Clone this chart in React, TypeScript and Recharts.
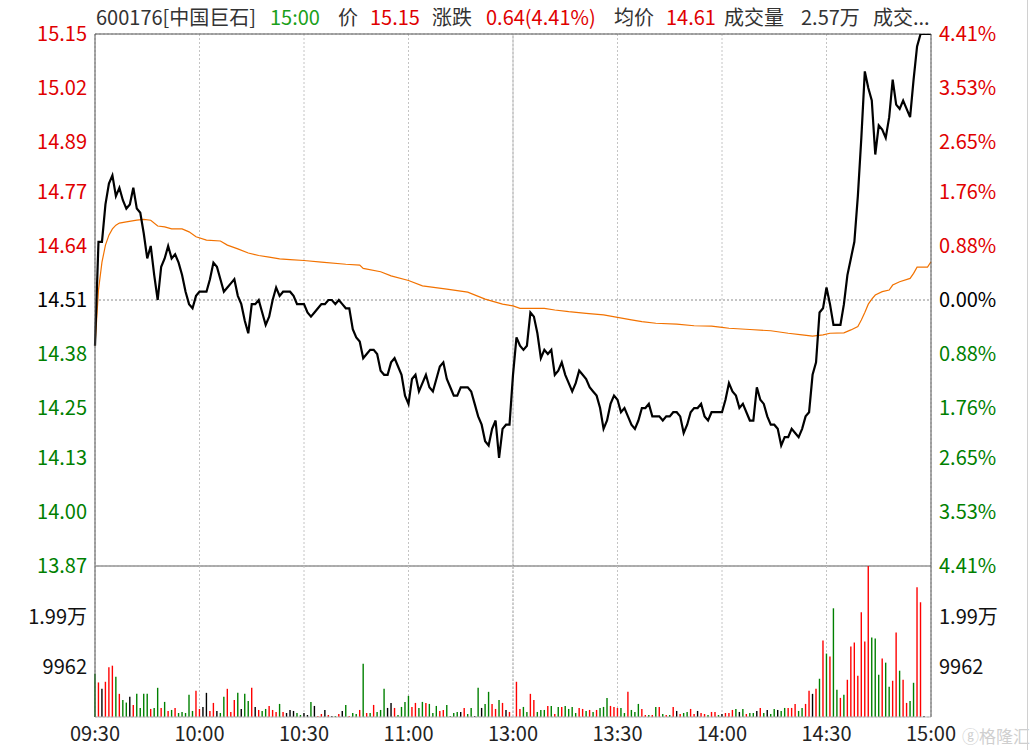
import React from "react";
import {
  ComposedChart,
  BarChart,
  Line,
  Bar,
  Cell,
  XAxis,
  YAxis,
  CartesianGrid,
  ReferenceLine,
} from "recharts";

const PREV_CLOSE = 14.51;
const RED = "#e00000";
const GREEN = "#008000";
const FONT = "'Noto Sans CJK SC', 'Noto Sans', sans-serif";

const TIME_TICKS = [0, 30, 60, 90, 120, 150, 180, 210, 240];
const TIME_LABELS = ["09:30", "10:00", "10:30", "11:00", "13:00", "13:30", "14:00", "14:30", "15:00"];
const PRICE_TICKS = [15.15, 15.02, 14.89, 14.77, 14.64, 14.51, 14.38, 14.25, 14.13, 14.0, 13.87];
const PCT_LABELS = ["4.41%", "3.53%", "2.65%", "1.76%", "0.88%", "0.00%", "0.88%", "1.76%", "2.65%", "3.53%", "4.41%"];
const VOL_TICKS = [9962, 19924];
const VOL_LABELS = ["9962", "1.99万"];
const VOL_MAX = 29886;

// one price per minute, 09:30 .. 11:30 / 13:00 .. 15:00
const PRICES = [
  14.40, 14.65, 14.65, 14.74, 14.79, 14.81, 14.76, 14.78, 14.75, 14.73,
  14.74, 14.78, 14.73, 14.72, 14.67, 14.61, 14.64, 14.57, 14.51, 14.59,
  14.61, 14.64, 14.61, 14.62, 14.60, 14.57, 14.53, 14.50, 14.49, 14.52,
  14.53, 14.53, 14.53, 14.56, 14.60, 14.59, 14.56, 14.53, 14.54, 14.55,
  14.56, 14.52, 14.50, 14.46, 14.43, 14.50, 14.50, 14.51, 14.48, 14.45,
  14.47, 14.51, 14.54, 14.52, 14.53, 14.53, 14.53, 14.52, 14.50, 14.50,
  14.50, 14.48, 14.47, 14.48, 14.49, 14.50, 14.50, 14.51, 14.51, 14.50,
  14.51, 14.50, 14.49, 14.49, 14.44, 14.42, 14.41, 14.37, 14.38, 14.39,
  14.39, 14.38, 14.34, 14.33, 14.33, 14.36, 14.37, 14.35, 14.33, 14.28,
  14.26, 14.32, 14.33, 14.29, 14.31, 14.33, 14.30, 14.29, 14.32, 14.35,
  14.36, 14.32, 14.30, 14.28, 14.28, 14.30, 14.30, 14.30, 14.29, 14.26,
  14.23, 14.21, 14.17, 14.16, 14.20, 14.22, 14.13, 14.20, 14.21, 14.21,
  14.33, 14.42, 14.40, 14.39, 14.40, 14.48, 14.47, 14.43, 14.37, 14.39,
  14.38, 14.39, 14.33, 14.34, 14.36, 14.33, 14.31, 14.29, 14.31, 14.34,
  14.33, 14.32, 14.30, 14.29, 14.28, 14.25, 14.20, 14.22, 14.26, 14.28,
  14.27, 14.24, 14.25, 14.23, 14.21, 14.20, 14.22, 14.25, 14.25, 14.26,
  14.23, 14.23, 14.23, 14.22, 14.23, 14.23, 14.24, 14.24, 14.23, 14.19,
  14.21, 14.24, 14.25, 14.25, 14.26, 14.23, 14.22, 14.24, 14.24, 14.24,
  14.24, 14.27, 14.31, 14.29, 14.28, 14.25, 14.26, 14.24, 14.22, 14.22,
  14.30, 14.27, 14.26, 14.23, 14.21, 14.21, 14.20, 14.16, 14.18, 14.18,
  14.20, 14.19, 14.18, 14.20, 14.23, 14.24, 14.33, 14.36, 14.48, 14.49,
  14.54, 14.50, 14.45, 14.45, 14.45, 14.50, 14.57, 14.61, 14.65, 14.76,
  14.90, 15.06, 15.02, 14.99, 14.86, 14.93, 14.92, 14.90, 14.95, 15.04,
  14.98, 14.97, 14.99, 14.97, 14.95, 15.04, 15.12, 15.15, 15.15, 15.15,
  15.15,
];

const VOLUMES = [
  8566, 6839, 5578, 6972, 9827, 10159, 7968, 4582, 3386, 2855,
  3984, 2390, 4582, 1793, 4582, 4582, 1594, 1793, 5777, 1793,
  2988, 1195, 1394, 1793, 797, 996, 797, 4382, 1195, 5179,
  1594, 1992, 4781, 1195, 2789, 1195, 797, 3984, 5578, 996,
  3386, 4781, 1594, 4582, 3187, 5777, 1992, 1394, 1195, 1594,
  2191, 1394, 996, 2590, 996, 797, 1394, 1195, 797, 398,
  797, 398, 2988, 2191, 199, 598, 1394, 398, 199, 199,
  598, 1195, 2390, 199, 797, 598, 1394, 10558, 797, 797,
  2390, 996, 1394, 5578, 1793, 2789, 1793, 398, 1992, 2988,
  4183, 1992, 2789, 1793, 2988, 2789, 2590, 797, 2191, 1195,
  1394, 2390, 199, 797, 996, 996, 1793, 598, 1793, 199,
  5777, 1793, 2590, 4980, 2590, 1594, 3386, 2789, 1394, 996,
  0, 6972, 1594, 1992, 996, 4582, 3386, 996, 1394, 1394,
  2191, 2191, 598, 1992, 1992, 2191, 1594, 1992, 797, 1793,
  1594, 1195, 1394, 996, 1394, 1793, 1992, 3785, 2191, 1992,
  1793, 1793, 797, 4980, 1394, 996, 2590, 1594, 398, 398,
  398, 1992, 1992, 598, 398, 398, 1992, 1195, 598, 797,
  996, 1594, 598, 1195, 797, 598, 398, 996, 996, 398,
  598, 797, 797, 1394, 1594, 996, 1594, 598, 797, 797,
  1195, 1793, 797, 1394, 598, 1594, 1394, 1195, 1793, 1793,
  1793, 2590, 1195, 1793, 2590, 5179, 4582, 5578, 7570, 15139,
  12550, 11952, 21514, 5378, 3785, 4382, 7370, 13944, 14741, 8167,
  20717, 14940, 29886, 15737, 15538, 8366, 11554, 10757, 5976, 7171,
  16733, 9163, 7370, 2789, 3187, 6773, 25697, 22709, 199, 0,
  0,
];

// u = up (red), d = down (green), f = flat (black)
const MOVES = `
  d u f u u u d u d d
  f u d d d d u d d u
  d u d u d d d d d u
  u f f u u f d d u u
  u d f d d u f u d d
  u u u d u f f f d d
  f f d f u u f u f d
  u f d u d d u d u d
  u d d d f f u d d d
  d u u d d u d d d u
  u d d d d f u d d f
  d f d d u u d u f u
  f u u d d u u d d d
  u d u d u d d d d u
  u d u d u d d d u u
  u d d u d d d u u d
  u d u d u d u f u d
  d u u f u u d u u d
  f u u u d f d u d d
  f u d f d d f d d u
  u u d d u u f u d u
  d u d d u d u u u u
  u u u d d d u d d u
  u d u u d d u u f f
  f
`.trim().split(/\s+/);

const AVG_MINUTES = [
  0, 1, 2, 3, 4, 5, 6, 7, 9, 12, 14, 16, 18, 20, 22, 25, 27, 29, 32, 36,
  38, 41, 44, 47, 50, 53, 56, 60, 65, 72, 76, 77, 82, 85, 90, 94, 101, 107, 112, 117,
  120, 122, 129, 132, 136, 141, 146, 150, 154, 157, 161, 167, 172, 177, 180, 182, 188, 194, 199, 203,
  206, 209, 211, 215, 217, 219, 220, 221, 222, 223, 224, 226, 228, 229, 231, 234, 235, 236, 239, 240,
];
const AVG_VALUES = [
  14.40, 14.534, 14.601, 14.642, 14.666, 14.681, 14.69, 14.695, 14.698, 14.702, 14.704, 14.702, 14.688, 14.686, 14.681, 14.681, 14.674, 14.662, 14.654, 14.652,
  14.642, 14.633, 14.623, 14.617, 14.613, 14.609, 14.607, 14.605, 14.601, 14.596, 14.594, 14.586, 14.578, 14.568, 14.557, 14.544, 14.536, 14.529, 14.512, 14.50,
  14.496, 14.49, 14.49, 14.486, 14.482, 14.478, 14.474, 14.468, 14.462, 14.458, 14.454, 14.452, 14.448, 14.447, 14.444, 14.442, 14.439, 14.436, 14.43, 14.426,
  14.423, 14.426, 14.43, 14.431, 14.438, 14.446, 14.462, 14.48, 14.50, 14.512, 14.522, 14.53, 14.534, 14.546, 14.554, 14.562, 14.574, 14.589, 14.589, 14.602,
];

const avgByMinute = new Map(AVG_MINUTES.map((m, k) => [m, AVG_VALUES[k]]));
const rows = PRICES.map((price, t) => ({
  t,
  price,
  vol: VOLUMES[t],
  move: MOVES[t],
  avg: avgByMinute.get(t),
}));

const moveColor = (m: string) => (m === "u" ? "#ff0000" : m === "d" ? GREEN : "#000000");

const priceColor = (v: number) =>
  v > PREV_CLOSE + 1e-6 ? RED : v < PREV_CLOSE - 1e-6 ? GREEN : "#000000";

function PriceTick(props: any) {
  const { x, y, payload, side } = props;
  const v = payload.value as number;
  const idx = PRICE_TICKS.indexOf(v);
  const label = side === "left" ? v.toFixed(2) : PCT_LABELS[idx];
  return (
    <text
      x={x}
      y={y}
      dy="0.36em"
      textAnchor={side === "left" ? "end" : "start"}
      fill={priceColor(v)}
      fontSize={20}
      fontFamily={FONT}
    >
      {label}
    </text>
  );
}

function VolTick(props: any) {
  const { x, y, payload, side } = props;
  const idx = VOL_TICKS.indexOf(payload.value);
  return (
    <text
      x={x}
      y={y}
      dy="0.36em"
      textAnchor={side === "left" ? "end" : "start"}
      fill="#111"
      fontSize={20}
      fontFamily={FONT}
    >
      {VOL_LABELS[idx]}
    </text>
  );
}

const timeLabel = (v: number) => TIME_LABELS[TIME_TICKS.indexOf(v)] ?? "";

const GRID = "#c4c4c4";
const FRAME = "#555";

// header pieces: text, colour, left edge
const HEADER: [string, string, number][] = [
  ["600176[中国巨石]", "#333", 96],
  ["15:00", "#1aa01a", 270],
  ["价", "#333", 338],
  ["15.15", RED, 370],
  ["涨跌", "#333", 432],
  ["0.64(4.41%)", RED, 486],
  ["均价", "#333", 614],
  ["14.61", RED, 666],
  ["成交量", "#333", 724],
  ["2.57万", "#333", 801],
  ["成交...", "#333", 873],
];

function Header() {
  return (
    <>
      {HEADER.map(([text, color, left]) => (
        <div
          key={left}
          style={{
            position: "absolute",
            left,
            top: 4,
            fontSize: 20,
            lineHeight: "26px",
            fontFamily: FONT,
            whiteSpace: "nowrap",
            color,
          }}
        >
          {text}
        </div>
      ))}
    </>
  );
}

export default function App() {
  return (
    <div
      style={{
        position: "absolute",
        left: 0,
        top: 0,
        width: 1030,
        height: 750,
        background: "#fff",
        overflow: "hidden",
        fontFamily: FONT,
      }}
    >
      <Header />

      <div style={{ position: "absolute", left: 0, top: 0 }}>
        <ComposedChart
          width={1030}
          height={580}
          data={rows}
          margin={{ top: 34, right: 0, bottom: 14, left: 0 }}
        >
          <CartesianGrid stroke={GRID} strokeDasharray="2 2" />
          <XAxis dataKey="t" type="number" domain={[0, 240]} ticks={TIME_TICKS} hide />
          <YAxis
            yAxisId="l"
            orientation="left"
            width={95}
            type="number"
            domain={[13.87, 15.15]}
            ticks={PRICE_TICKS}
            allowDataOverflow
            interval={0}
            tickLine={false}
            axisLine={{ stroke: FRAME }}
            tick={<PriceTick side="left" />}
          />
          <YAxis
            yAxisId="r"
            orientation="right"
            width={99}
            type="number"
            domain={[13.87, 15.15]}
            ticks={PRICE_TICKS}
            allowDataOverflow
            interval={0}
            tickLine={false}
            axisLine={{ stroke: FRAME }}
            tick={<PriceTick side="right" />}
          />
          <ReferenceLine yAxisId="l" y={PREV_CLOSE} stroke="#8a8a8a" strokeDasharray="2 2" />
          <ReferenceLine yAxisId="l" x={120} stroke="#cccccc" strokeDasharray="2 2" strokeWidth={2} />
          <ReferenceLine yAxisId="l" y={15.15} stroke={FRAME} />
          <ReferenceLine yAxisId="l" y={13.87} stroke={FRAME} />
          <Line
            yAxisId="l"
            dataKey="avg"
            stroke="#f27200"
            strokeWidth={1.2}
            dot={false}
            connectNulls
            isAnimationActive={false}
          />
          <Line
            yAxisId="l"
            dataKey="price"
            stroke="#000"
            strokeWidth={2.2}
            dot={false}
            isAnimationActive={false}
          />
        </ComposedChart>
      </div>

      <div style={{ position: "absolute", left: 0, top: 556 }}>
        <BarChart
          width={1030}
          height={194}
          data={rows}
          margin={{ top: 10, right: 0, bottom: 0, left: 0 }}
          barSize={1.4}
        >
          <CartesianGrid stroke={GRID} strokeDasharray="2 2" />
          <XAxis
            dataKey="t"
            type="number"
            domain={[0, 240]}
            ticks={TIME_TICKS}
            interval={0}
            height={33}
            tickLine={false}
            tickMargin={4}
            axisLine={{ stroke: "#bbb" }}
            tickFormatter={timeLabel}
            tick={{ fontSize: 20, fill: "#222", fontFamily: FONT }}
          />
          <YAxis
            yAxisId="l"
            orientation="left"
            width={95}
            type="number"
            domain={[0, VOL_MAX]}
            ticks={VOL_TICKS}
            allowDataOverflow
            interval={0}
            tickLine={false}
            axisLine={{ stroke: FRAME }}
            tick={<VolTick side="left" />}
          />
          <YAxis
            yAxisId="r"
            orientation="right"
            width={99}
            type="number"
            domain={[0, VOL_MAX]}
            ticks={VOL_TICKS}
            allowDataOverflow
            interval={0}
            tickLine={false}
            axisLine={{ stroke: FRAME }}
            tick={<VolTick side="right" />}
          />
          <ReferenceLine yAxisId="l" x={120} stroke="#cccccc" strokeDasharray="2 2" strokeWidth={2} />
          <Bar yAxisId="l" dataKey="vol" isAnimationActive={false}>
            {rows.map((r) => (
              <Cell key={r.t} fill={moveColor(r.move)} />
            ))}
          </Bar>
        </BarChart>
      </div>

      <div
        style={{
          position: "absolute",
          left: 962,
          top: 723,
          fontSize: 17,
          color: "#cfcfcf",
          fontFamily: FONT,
          whiteSpace: "nowrap",
        }}
      >
        ⓖ格隆汇
      </div>
      <div style={{ position: "absolute", left: 1027, top: 0, width: 1, height: 750, background: "#d0d0d0" }} />
    </div>
  );
}
